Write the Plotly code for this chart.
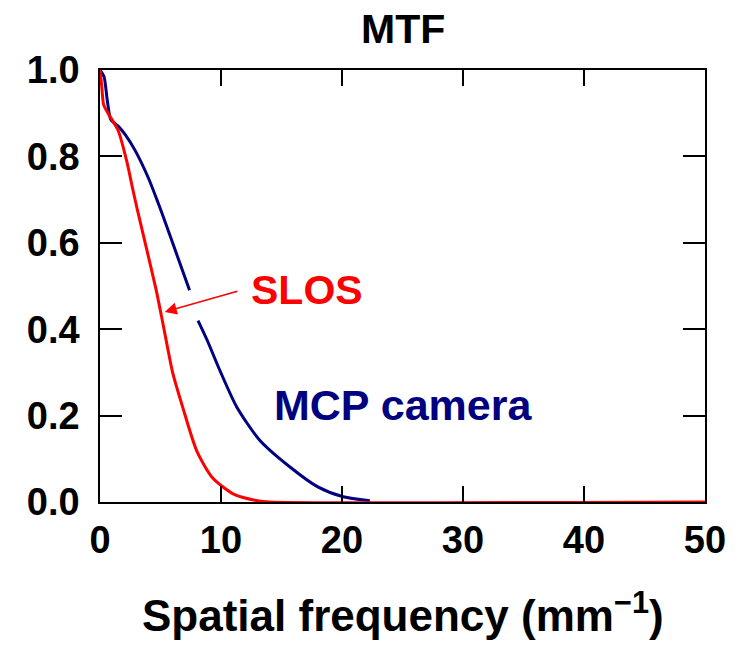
import plotly.graph_objects as go

# Data
slos_x = [0, 0.15, 0.3, 0.66, 1.5, 2.2, 2.7, 3.1, 3.9, 4.7, 5.2, 5.6, 6.0, 6.85, 8.0, 9.3, 11.0, 13.0, 14.0, 50]
slos_y = [1.0, 0.96, 0.92, 0.90, 0.86, 0.79, 0.725, 0.675, 0.58, 0.483, 0.413, 0.355, 0.30, 0.218, 0.118, 0.056, 0.019, 0.003, 0.0, 0.0]

mcp_x = [0, 0.33, 0.6, 0.9, 1.5, 2.1, 2.9, 4.0, 4.7, 5.1, 6.0, 7.4, None, 8.1, 8.85, 9.9, 11.3, 13.2, 15.7, 18.0, 20.1, 22.3]
mcp_y = [1.0, 0.985, 0.93, 0.885, 0.87, 0.85, 0.814, 0.75, 0.70, 0.67, 0.6, 0.49, None, 0.42, 0.375, 0.305, 0.22, 0.143, 0.081, 0.035, 0.012, 0.003]

x_ticks = [0, 10, 20, 30, 40, 50]
y_ticks = [0.0, 0.2, 0.4, 0.6, 0.8, 1.0]
y_tick_labels = ["0.0", "0.2", "0.4", "0.6", "0.8", "1.0"]

FONT = "Liberation Sans, Arial, Helvetica, sans-serif"

fig = go.Figure()
fig.add_trace(go.Scatter(x=mcp_x, y=mcp_y, mode="lines",
                         line=dict(color="#000080", width=3, shape="spline", smoothing=0.7),
                         connectgaps=False, showlegend=False, hoverinfo="skip"))
fig.add_trace(go.Scatter(x=slos_x, y=slos_y, mode="lines",
                         line=dict(color="#ff0000", width=3, shape="spline", smoothing=0.7),
                         showlegend=False, hoverinfo="skip"))

axis_common = dict(showgrid=False, zeroline=False, showline=True, linecolor="black",
                   linewidth=1.5, mirror="ticks", ticks="inside", tickcolor="black",
                   tickwidth=1.5, automargin=False,
                   tickfont=dict(family=FONT, size=38, color="black", weight="bold"))

fig.update_xaxes(range=[0, 50], tickvals=x_ticks, ticklen=16,
                 ticklabelstandoff=4, **axis_common)
fig.update_yaxes(range=[0, 1.0], tickvals=y_ticks, ticktext=y_tick_labels, ticklen=22,
                 ticklabelstandoff=11, **axis_common)

# plot area spans 432 px vertically (paper coordinates computed from that)
annotations = [
    dict(text="MTF", xref="paper", yref="paper", x=0.5, y=(502 - 29) / 432,
         xanchor="center", yanchor="middle", showarrow=False,
         font=dict(family=FONT, size=41, color="black", weight="bold")),
    dict(text="Spatial frequency (mm<sup>\u22121</sup>)", xref="paper", yref="paper",
         x=0.5, y=(502 - 612) / 432, xanchor="center", yanchor="middle", showarrow=False,
         font=dict(family=FONT, size=44, color="black", weight="bold")),
    dict(text="SLOS", xref="x", yref="y", x=12.3, y=0.49, xanchor="left",
         yanchor="middle", showarrow=False,
         font=dict(family=FONT, size=41, color="#ff0000", weight="bold")),
    dict(text=" ", xref="x", yref="y", x=5.35, y=0.44, axref="x", ayref="y",
         ax=11.6, ay=0.49, showarrow=True, arrowhead=2, arrowsize=1.6,
         arrowwidth=1.5, arrowcolor="#ff0000"),
    dict(text="MCP camera", xref="x", yref="y", x=14.2, y=0.225, xanchor="left",
         yanchor="middle", showarrow=False,
         font=dict(family=FONT, size=43, color="#000080", weight="bold")),
]

# page body adds an 8 px offset; size/margins compensate so the plot lands where the reference has it
fig.update_layout(width=736, height=638, margin=dict(l=92, r=39, t=62, b=144),
                  plot_bgcolor="white", paper_bgcolor="white",
                  annotations=annotations)

fig.write_html("out.html")
